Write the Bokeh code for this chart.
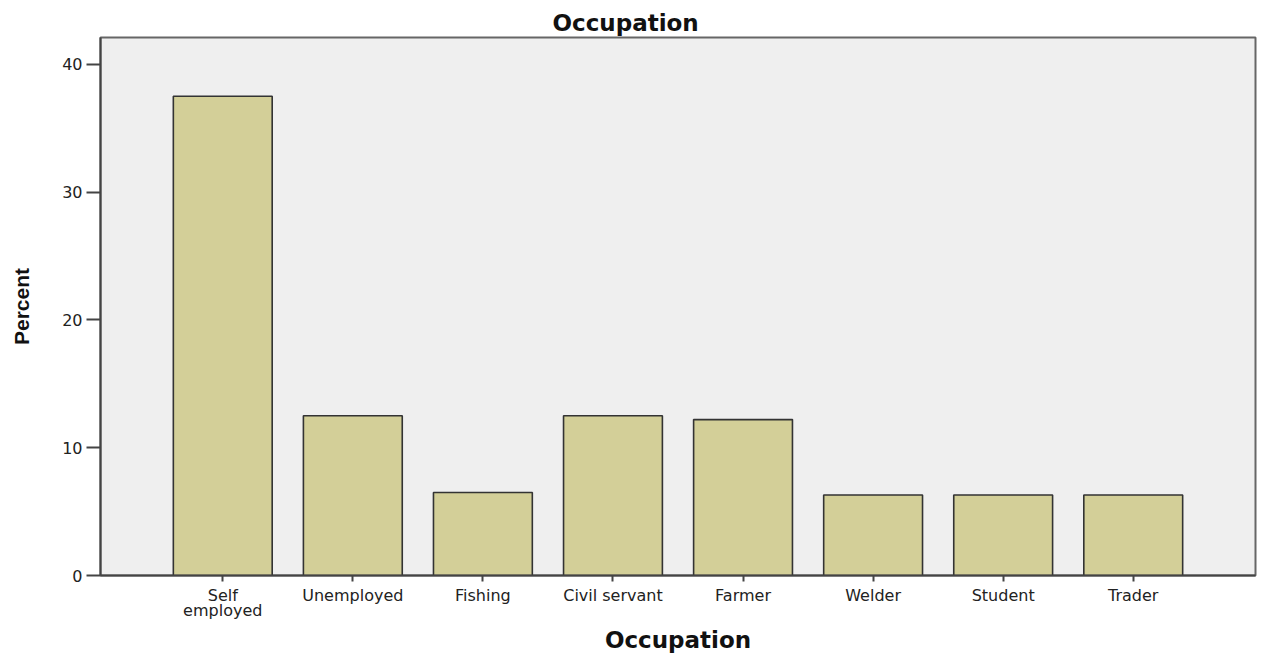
from bokeh.plotting import figure
from bokeh.models import FactorRange, Range1d, FixedTicker, Title
from bokeh.embed import file_html
from bokeh.resources import INLINE

categories = ["Self\nemployed", "Unemployed", "Fishing", "Civil servant", "Farmer", "Welder", "Student", "Trader"]
percent = [37.5, 12.5, 6.5, 12.5, 12.2, 6.3, 6.3, 6.3]
y_ticks = [0, 10, 20, 30, 40]

WIDE = "DejaVu Sans"
NARROW = "Liberation Sans"

xr = FactorRange(factors=categories, range_padding=0.44, range_padding_units="absolute")
p = figure(x_range=xr, y_range=Range1d(0, 42.1), width=1258, height=655,
           output_backend="svg", toolbar_location=None,
           min_border_left=100, min_border_right=3, min_border_top=37, min_border_bottom=80)
p.title = Title(text="Occupation", align="left", offset=452,
                text_font=WIDE, text_font_size="23px", text_font_style="bold",
                text_color="#111111", standoff=4)

p.vbar(x=categories, top=percent, width=0.76, bottom=0,
       fill_color="#d3cf98", line_color="#333333", line_width=1.6)

p.background_fill_color = "#efefef"
p.border_fill_color = "white"
p.outline_line_color = "#666666"
p.outline_line_width = 2
p.xgrid.visible = False
p.ygrid.visible = False

p.yaxis.ticker = FixedTicker(ticks=y_ticks)
p.yaxis.minor_tick_line_color = None
p.yaxis.major_tick_out = 14
p.yaxis.major_tick_in = 0
p.yaxis.major_label_standoff = 4
p.yaxis.axis_label = "Percent"
p.yaxis.axis_label_standoff = 26

p.xaxis.major_tick_out = 6
p.xaxis.major_tick_in = 0
p.xaxis.major_label_standoff = 4
p.xaxis.axis_label = "Occupation"
p.xaxis.axis_label_standoff = 4

for ax in (p.xaxis, p.yaxis):
    ax.axis_line_color = "#444444"
    ax.axis_line_width = 2
    ax.major_tick_line_color = "#444444"
    ax.major_tick_line_width = 2
    ax.major_label_text_font = WIDE
    ax.major_label_text_font_size = "16px"
    ax.major_label_text_color = "#222222"
    ax.axis_label_text_font_style = "bold"
    ax.axis_label_text_color = "#111111"

p.xaxis.axis_label_text_font = WIDE
p.xaxis.axis_label_text_font_size = "23px"
p.yaxis.axis_label_text_font = NARROW
p.yaxis.axis_label_text_font_size = "21px"
p.xaxis.major_label_text_line_height = 0.8

open("out.html", "w").write(file_html(p, INLINE))
